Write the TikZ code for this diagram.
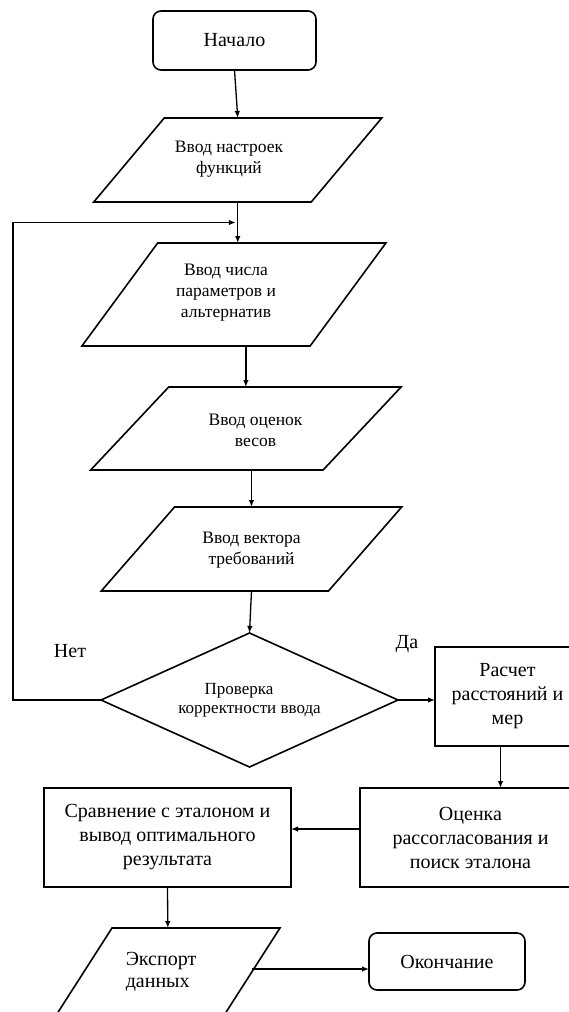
\documentclass[tikz,border=0pt]{standalone}
\usepackage{fontspec}
\setmainfont{Liberation Serif}
\usetikzlibrary{shapes.geometric,arrows.meta,calc}

% text sizes
\newcommand\txtIO{\fontsize{17.5}{21}\selectfont}
\newcommand\txtBox{\fontsize{20}{24}\selectfont}
\newcommand\txtDec{\fontsize{17}{19.5}\selectfont}
\newcommand\txtExp{\fontsize{20}{21.5}\selectfont}

\tikzset{
  outline/.style={draw, line width=1.6pt, line join=miter},
  term/.style={outline, rounded corners=8pt, inner sep=0pt, outer sep=0pt, align=center, font=\txtBox},
  proc/.style={outline, inner sep=0pt, outer sep=0pt, align=center, font=\txtBox},
  ioframe/.style={inner sep=0pt, outer sep=0pt},
  iotext/.style={inner sep=0pt, align=center, font=\txtIO},
  decision/.style={outline, diamond, shape aspect=2.216, inner sep=0pt, outer sep=0pt, align=center, font=\txtDec},
  lbl/.style={inner sep=0pt, font=\txtBox},
  flow/.style={draw, line width=1.3pt, -{Latex[length=7pt,width=5.5pt]}},
}

% input/output block: name, centre x, centre y, half edge length, half slant, half height
\newcommand\ioblock[6]{%
  \node[ioframe, minimum width={2*#4}, minimum height={2*#6}] (#1) at (#2,#3) {};
  \draw[outline] ($(#1.center)+(-#4+#5,-#6)$) -- ($(#1.center)+(#4+#5,-#6)$)
    -- ($(#1.center)+(#4-#5,#6)$) -- ($(#1.center)+(-#4-#5,#6)$) -- cycle;
}

\begin{document}
\begin{tikzpicture}[x=1pt,y=-1pt]
  \useasboundingbox (0,0) rectangle (569,1012);
  \clip (0,0) rectangle (569,1012);

  % blocks
  \node[term, minimum width=163pt, minimum height=59pt] (start) at (234.5,40.5) {Начало};

  \ioblock{p1}{237.75}{160}{108.75}{35.25}{42}
  \node[iotext] (t1) at (229,159.5) {Ввод настроек\\функций};

  \ioblock{p2}{233.9}{294.5}{114.1}{37.9}{51.5}
  \node[iotext] (t2) at (226,292.5) {Ввод числа\\параметров и\\альтернатив};

  \ioblock{p3}{245.9}{428.5}{116.2}{39}{41.5}
  \node[iotext] (t3) at (255.5,430.5) {Ввод оценок\\весов};

  \ioblock{p4}{251.5}{549}{113.6}{36.65}{42}
  \node[iotext] (t4) at (251.5,550) {Ввод вектора\\требований};

  \node[decision, minimum width=297pt, minimum height=134pt] (dec) at (249.5,700)
    {Проверка\hspace*{21pt}\\корректности ввода};

  \node[lbl] (no) at (70,651) {Нет};
  \node[lbl] (yes) at (407,644) {Да};

  \node[proc, minimum width=145pt, minimum height=99pt] (calc) at (507.5,696.5)
    {Расчет\\расстояний и\\мер};
  \node[proc, minimum width=221pt, minimum height=99pt] (oc) at (470.5,837.5)
    {Оценка\\рассогласования и\\поиск эталона};
  \node[proc, minimum width=247pt, minimum height=99pt] (sr) at (167.5,837.5)
    {Сравнение с эталоном и\\вывод оптимального\\результата};

  \ioblock{p5}{167.8}{972}{84}{28.2}{44}
  \node[iotext, align=left, font=\txtExp] (t5) at (161,972) {Экспорт\\данных};

  \node[term, minimum width=156pt, minimum height=57pt] (end) at (447,961.5) {Окончание};

  % connectors
  \coordinate (loopx) at (13,0);
  \coordinate (merge) at ($(p1.south)!0.5!(p1.south |- p2.north)$);

  \draw[flow] (start.south) -- (p1.north);
  \draw[flow] (p1.south) -- (p1.south |- p2.north);
  \draw[flow, shorten >=2pt] (dec.west) -- (dec.west -| loopx) |- (merge);
  \draw[flow] (p3.north |- p2.south) -- (p3.north);
  \draw[flow] (p4.north |- p3.south) -- (p4.north);
  \draw[flow] (p4.south) -- (dec.north);
  \draw[flow] (dec.east) -- (dec.east -| calc.west);
  \draw[flow] ([xshift=-7pt]calc.south) -- ([xshift=-7pt]calc.south |- oc.north);
  \draw[flow] ([yshift=8.5pt]oc.west) -- ([yshift=8.5pt]oc.west -| sr.east);
  \draw[flow] (sr.south) -- (p5.north);
  \draw[flow] ([yshift=3pt]p5.east) -- ([yshift=3pt]p5.east -| end.west);
\end{tikzpicture}
\end{document}
